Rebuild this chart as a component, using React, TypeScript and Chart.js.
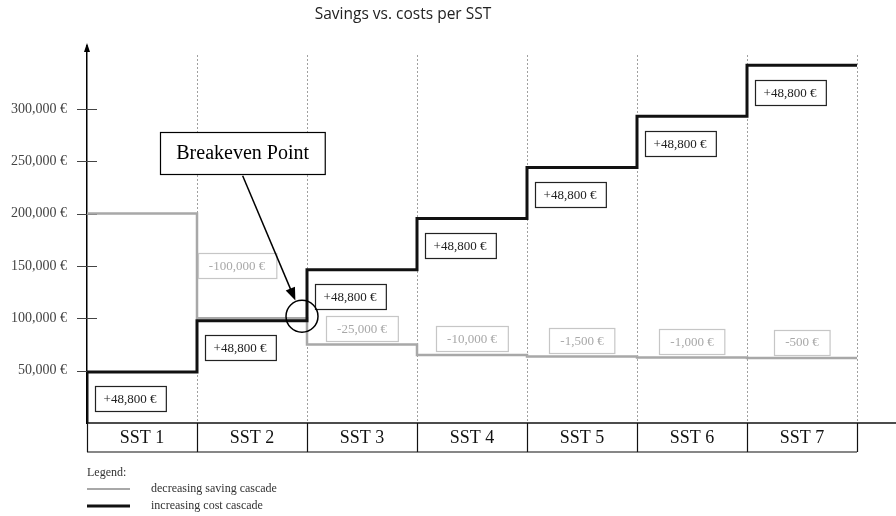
import React, { useEffect, useRef } from "react";
import { Chart, registerables } from "chart.js";

Chart.register(...registerables);

const categories = ["SST 1", "SST 2", "SST 3", "SST 4", "SST 5", "SST 6", "SST 7"];
const savingsLevels = [200000, 100000, 75000, 65000, 63500, 62500, 62000];
const savingsLabels = ["", "-100,000 €", "-25,000 €", "-10,000 €", "-1,500 €", "-1,000 €", "-500 €"];
const costLevels = [48800, 97600, 146400, 195200, 244000, 292800, 341600];
const costLabels = ["+48,800 €", "+48,800 €", "+48,800 €", "+48,800 €", "+48,800 €", "+48,800 €", "+48,800 €"];
const tickValues = [50000, 100000, 150000, 200000, 250000, 300000];
const titleText = "Savings vs. costs per SST";
const breakevenText = "Breakeven Point";
const legendTitle = "Legend:";
const legendItems = ["decreasing saving cascade", "increasing cost cascade"];

const SERIF = '"Liberation Serif", "DejaVu Serif", serif';

function box(ctx: CanvasRenderingContext2D, cx: number, cy: number, text: string, font: string, color: string, border: string, padX: number, h: number, lw: number) {
  ctx.save();
  ctx.font = font;
  const w = ctx.measureText(text).width + padX * 2;
  const x = Math.round(cx - w / 2) + 0.5;
  const y = Math.round(cy - h / 2) + 0.5;
  ctx.fillStyle = "#fff";
  ctx.fillRect(x, y, w, h);
  ctx.strokeStyle = border;
  ctx.lineWidth = lw;
  ctx.strokeRect(x, y, w, h);
  ctx.fillStyle = color;
  ctx.textAlign = "center";
  ctx.textBaseline = "middle";
  ctx.fillText(text, cx, cy + 1);
  ctx.restore();
}

const decorPlugin = {
  id: "decor",
  beforeDatasetsDraw(chart: any) {
    const { ctx, chartArea, scales } = chart;
    const xs = scales.x;
    const ys = scales.y;
    const bottom = chartArea.bottom;
    ctx.save();
    ctx.strokeStyle = "#a0a0a0";
    ctx.lineWidth = 1;
    ctx.setLineDash([2, 2]);
    for (let i = 1; i <= categories.length; i++) {
      const px = Math.round(xs.getPixelForValue(i)) + 0.5;
      ctx.beginPath();
      ctx.moveTo(px, chartArea.top + 9);
      ctx.lineTo(px, bottom);
      ctx.stroke();
    }
    ctx.setLineDash([]);
    ctx.strokeStyle = "#444";
    ctx.lineWidth = 1;
    const ax = chartArea.left;
    tickValues.forEach((v) => {
      const py = Math.round(ys.getPixelForValue(v)) + 0.5;
      ctx.beginPath();
      ctx.moveTo(ax - 10, py);
      ctx.lineTo(ax + 10, py);
      ctx.stroke();
    });
    ctx.fillStyle = "#000";
    ctx.beginPath();
    ctx.moveTo(ax, chartArea.top - 3);
    ctx.lineTo(ax - 3, chartArea.top + 6);
    ctx.lineTo(ax + 3, chartArea.top + 6);
    ctx.closePath();
    ctx.fill();
    ctx.restore();
  },
  afterDatasetsDraw(chart: any) {
    const { ctx, chartArea, scales, width } = chart;
    const xs = scales.x;
    const ys = scales.y;
    const bottom = chartArea.bottom;
    const rowH = 29;
    ctx.save();
    ctx.strokeStyle = "#111";
    ctx.lineWidth = 1.5;
    ctx.beginPath();
    ctx.moveTo(chartArea.left, bottom);
    ctx.lineTo(width, bottom);
    ctx.stroke();
    ctx.lineWidth = 1.2;
    ctx.beginPath();
    ctx.moveTo(chartArea.left, bottom + rowH);
    ctx.lineTo(xs.getPixelForValue(categories.length), bottom + rowH);
    for (let i = 0; i <= categories.length; i++) {
      const px = Math.round(xs.getPixelForValue(i)) + 0.5;
      ctx.moveTo(px, bottom);
      ctx.lineTo(px, bottom + rowH);
    }
    ctx.stroke();
    ctx.fillStyle = "#111";
    ctx.font = `18px ${SERIF}`;
    ctx.textAlign = "center";
    ctx.textBaseline = "middle";
    categories.forEach((c, i) => {
      ctx.fillText(c, xs.getPixelForValue(i + 0.5), bottom + rowH / 2 + 1);
    });

    savingsLabels.forEach((t, i) => {
      if (!t) return;
      const cur = ys.getPixelForValue(savingsLevels[i]);
      const mid = ys.getPixelForValue((savingsLevels[i] + savingsLevels[i - 1]) / 2);
      const cy = Math.min(mid, cur - 16);
      const cxl = i === 1 ? xs.getPixelForValue(i) + 40 : xs.getPixelForValue(i + 0.5);
      box(ctx, cxl, cy, t, `13px ${SERIF}`, "#a8a8a8", "#c6c6c6", 11, 25, 1.2);
    });
    costLabels.forEach((t, i) => {
      const cy = ys.getPixelForValue(costLevels[i]) + 27;
      box(ctx, xs.getPixelForValue(i + 0.5) - 12, cy, t, `13px ${SERIF}`, "#222", "#222", 9, 25, 1.2);
    });

    const cx = xs.getPixelForValue(2) - 5;
    const cyc = ys.getPixelForValue(savingsLevels[1]) - 2;
    const r = 16;
    ctx.strokeStyle = "#000";
    ctx.lineWidth = 1.5;
    ctx.beginPath();
    ctx.arc(cx, cyc, r, 0, Math.PI * 2);
    ctx.stroke();
    const bx = xs.getPixelForValue(1.415);
    const by = ys.getPixelForValue(258000);
    box(ctx, bx, by, breakevenText, `20px ${SERIF}`, "#000", "#000", 16, 42, 1.2);
    const sx = bx, sy = by + 23;
    const dx = cx - sx, dy = cyc - sy;
    const len = Math.sqrt(dx * dx + dy * dy);
    const ux = dx / len, uy = dy / len;
    const ex = cx - ux * (r + 1), ey = cyc - uy * (r + 1);
    ctx.lineWidth = 1.5;
    ctx.beginPath();
    ctx.moveTo(sx, sy);
    ctx.lineTo(ex - ux * 10, ey - uy * 10);
    ctx.stroke();
    ctx.fillStyle = "#000";
    ctx.beginPath();
    ctx.moveTo(ex, ey);
    ctx.lineTo(ex - ux * 13 - uy * 5, ey - uy * 13 + ux * 5);
    ctx.lineTo(ex - ux * 13 + uy * 5, ey - uy * 13 - ux * 5);
    ctx.closePath();
    ctx.fill();

    ctx.fillStyle = "#222";
    ctx.font = `15.5px "Open Sans", Lato, sans-serif`;
    ctx.textAlign = "center";
    ctx.textBaseline = "middle";
    ctx.fillText(titleText, 403, 15);

    const lx = chartArea.left;
    ctx.textAlign = "left";
    ctx.fillStyle = "#333";
    ctx.font = `12px ${SERIF}`;
    ctx.fillText(legendTitle, lx, bottom + 50);
    ctx.lineWidth = 2;
    ctx.strokeStyle = "#a8a8a8";
    ctx.beginPath();
    ctx.moveTo(lx, bottom + 66);
    ctx.lineTo(lx + 43, bottom + 66);
    ctx.stroke();
    ctx.lineWidth = 3;
    ctx.strokeStyle = "#111";
    ctx.beginPath();
    ctx.moveTo(lx, bottom + 83);
    ctx.lineTo(lx + 43, bottom + 83);
    ctx.stroke();
    ctx.fillStyle = "#333";
    ctx.fillText(legendItems[0], lx + 64, bottom + 66);
    ctx.fillText(legendItems[1], lx + 64, bottom + 83);
    ctx.restore();
  },
};

export default function App() {
  const ref = useRef<HTMLCanvasElement | null>(null);
  useEffect(() => {
    document.body.style.margin = "0";
    if (!ref.current) return;
    const n = categories.length;
    const savingsData = savingsLevels.map((v, i) => ({ x: i, y: v }));
    savingsData.push({ x: n, y: savingsLevels[n - 1] });
    const costData = [{ x: 0, y: 0 }, ...costLevels.map((v, i) => ({ x: i, y: v }))];
    costData.push({ x: n, y: costLevels[n - 1] });
    const chart = new Chart(ref.current, {
      type: "line",
      data: {
        datasets: [
          {
            label: legendItems[0],
            data: savingsData,
            stepped: "before",
            borderColor: "#a8a8a8",
            borderWidth: 2.5,
            pointRadius: 0,
            fill: false,
            order: 1,
          },
          {
            label: legendItems[1],
            data: costData,
            stepped: "before",
            borderColor: "#111",
            borderWidth: 3,
            pointRadius: 0,
            fill: false,
            order: 0,
          },
        ],
      },
      options: {
        responsive: false,
        animation: false,
        layout: { padding: { top: 46, bottom: 93, left: 0, right: 0 } },
        plugins: { legend: { display: false }, tooltip: { enabled: false }, title: { display: false } },
        scales: {
          x: { type: "linear", min: 0, max: 7.3545, display: false },
          y: {
            min: 0,
            max: 360000,
            afterBuildTicks: (s: any) => {
              s.ticks = tickValues.map((v) => ({ value: v }));
            },
            afterFit: (s: any) => {
              s.width = 87;
            },
            border: { display: true, color: "#000", width: 1.5 },
            grid: { drawOnChartArea: false, drawTicks: false },
            ticks: {
              padding: 20,
              color: "#444",
              font: { family: SERIF, size: 14 },
              callback: (v: any) => Number(v).toLocaleString("en-US") + " €",
            },
          },
        },
      },
      plugins: [decorPlugin],
    });
    return () => chart.destroy();
  }, []);
  return (
    <div style={{ width: 896, height: 516 }}>
      <canvas ref={ref} width={896} height={516} style={{ display: "block" }} />
    </div>
  );
}
